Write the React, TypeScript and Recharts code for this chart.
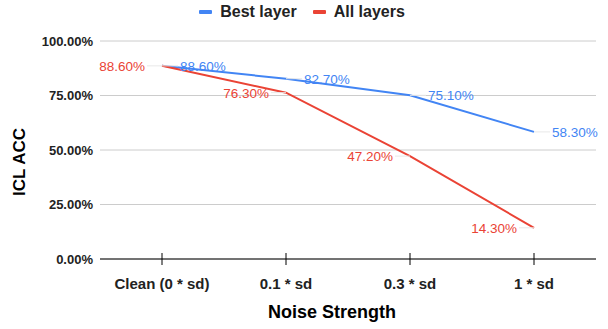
import React from "react";
import {
  CartesianGrid,
  Label,
  LabelList,
  Legend,
  Line,
  LineChart,
  XAxis,
  YAxis,
} from "recharts";

const categories = ["Clean (0 * sd)", "0.1 * sd", "0.3 * sd", "1 * sd"];
const bestLayer = [0.886, 0.827, 0.751, 0.583];
const allLayers = [0.886, 0.763, 0.472, 0.143];
const yTicks = [0, 0.25, 0.5, 0.75, 1];

const BLUE = "#4285F4";
const RED = "#EA4335";
const FONT = "'Liberation Sans', Arial, sans-serif";

const data = categories.map((name, i) => ({
  name,
  best: bestLayer[i],
  all: allLayers[i],
}));

const pct = (v: number) => `${(v * 100).toFixed(2)}%`;

function makeLabel(color: string, side: "left" | "right") {
  return function PointLabel(props: any) {
    const { x, y, value } = props;
    const gap = side === "right" ? 18 : -17;
    const lead = side === "right" ? 16 : -15;
    return (
      <g>
        <line x1={x} y1={y} x2={x + lead} y2={y} stroke="#e8e8e8" strokeWidth={1} />
        <text
          x={x + gap}
          y={y}
          dy={5}
          textAnchor={side === "right" ? "start" : "end"}
          fill={color}
          fontSize={13.5}
          fontFamily={FONT}
        >
          {pct(value)}
        </text>
      </g>
    );
  };
}

function XTick(props: any) {
  const { x, y, payload } = props;
  return (
    <g>
      <line x1={x} y1={y - 6} x2={x} y2={y + 6} stroke="#000" strokeWidth={1} />
      <text
        x={x}
        y={y + 30}
        textAnchor="middle"
        fill="#222"
        fontSize={15}
        fontWeight="bold"
        fontFamily={FONT}
      >
        {payload.value}
      </text>
    </g>
  );
}

function LegendContent() {
  const items = [
    { label: "Best layer", color: BLUE },
    { label: "All layers", color: RED },
  ];
  return (
    <div
      style={{
        display: "flex",
        justifyContent: "center",
        gap: 16,
        height: 23,
        alignItems: "center",
        fontFamily: FONT,
        fontWeight: "bold",
        fontSize: 16,
        color: "#222",
        paddingLeft: 8,
      }}
    >
      {items.map((it) => (
        <div key={it.label} style={{ display: "flex", alignItems: "center", gap: 8 }}>
          <span style={{ width: 13, height: 4, borderRadius: 1, background: it.color }} />
          <span>{it.label}</span>
        </div>
      ))}
    </div>
  );
}

export default function App() {
  return (
    <div style={{ position: "absolute", left: 0, top: 0, background: "#fff" }}>
      <LineChart
        width={608}
        height={329}
        data={data}
        margin={{ top: 18, right: 12, left: 0, bottom: 0 }}
      >
        <Legend
          verticalAlign="top"
          align="center"
          height={23}
          content={<LegendContent />}
          wrapperStyle={{ top: 0 }}
        />
        <CartesianGrid vertical={false} stroke="#cccccc" />
        <XAxis
          dataKey="name"
          height={70}
          padding={{ left: 62, right: 62 }}
          axisLine={{ stroke: "#000" }}
          tickLine={false}
          tickSize={0}
          tickMargin={0}
          tick={<XTick />}
        >
          <Label
            content={(p: any) => (
              <text
                x={p.viewBox.x + p.viewBox.width / 2 - 16}
                y={318}
                textAnchor="middle"
                fill="#000"
                fontSize={18}
                fontWeight="bold"
                fontFamily={FONT}
              >
                Noise Strength
              </text>
            )}
          />
        </XAxis>
        <YAxis
          width={100}
          domain={[0, 1]}
          ticks={yTicks}
          tickFormatter={pct}
          axisLine={false}
          tickLine={false}
          tickSize={6}
          tickMargin={1}
          tick={{ fill: "#222", fontSize: 13, fontWeight: "bold", fontFamily: FONT }}
        >
          <Label
            content={(p: any) => {
              const cy = p.viewBox.y + p.viewBox.height / 2 + 12;
              return (
                <text
                  x={25}
                  y={cy}
                  transform={`rotate(-90 25 ${cy})`}
                  textAnchor="middle"
                  fill="#000"
                  fontSize={17}
                  fontWeight="bold"
                  fontFamily={FONT}
                >
                  ICL ACC
                </text>
              );
            }}
          />
        </YAxis>
        <Line
          dataKey="best"
          name="Best layer"
          stroke={BLUE}
          strokeWidth={2}
          dot={false}
          isAnimationActive={false}
        >
          <LabelList dataKey="best" content={makeLabel(BLUE, "right")} />
        </Line>
        <Line
          dataKey="all"
          name="All layers"
          stroke={RED}
          strokeWidth={2}
          dot={false}
          isAnimationActive={false}
        >
          <LabelList dataKey="all" content={makeLabel(RED, "left")} />
        </Line>
      </LineChart>
    </div>
  );
}
